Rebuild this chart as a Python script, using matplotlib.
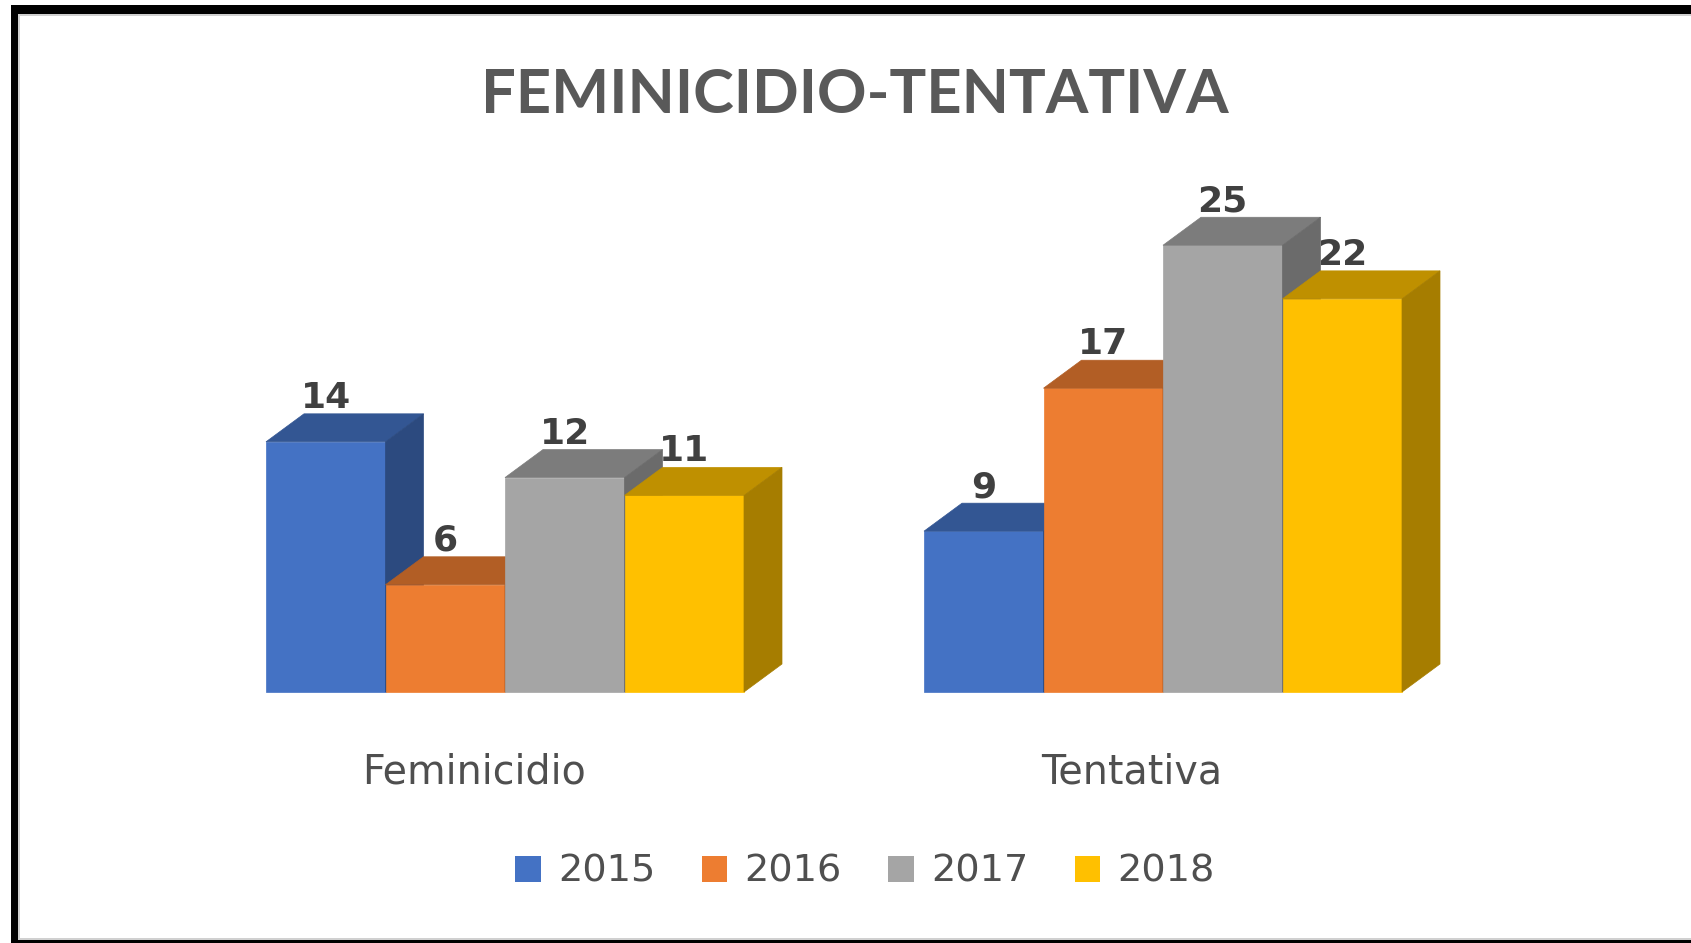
import matplotlib
matplotlib.use("Agg")
import matplotlib.pyplot as plt
from matplotlib.colors import to_rgb
from matplotlib.patches import Polygon, Rectangle, Patch

# datos del grafico
categories = ["Feminicidio", "Tentativa"]
years = ["2015", "2016", "2017", "2018"]
v2015 = [14, 9]
v2016 = [6, 17]
v2017 = [12, 25]
v2018 = [11, 22]
series = [v2015, v2016, v2017, v2018]
colors = ["#4472C4", "#ED7D31", "#A5A5A5", "#FFC000"]

W, H = 1691, 943
PX_X = 658.0   # pixeles por categoria
PX_Y = 17.87   # pixeles por unidad
BASE = 692     # linea base en pixeles desde arriba
CX0 = 505      # centro del primer grupo


def shade(c, f):  # oscurecer color para caras laterales
    return tuple(v * f for v in to_rgb(c))


def fig_rect(x, y, w, h, color):  # rectangulo en pixeles (origen arriba-izquierda)
    fig.add_artist(Rectangle((x / W, 1 - (y + h) / H), w / W, h / H,
                             transform=fig.transFigure, color=color, lw=0))


fig = plt.figure(figsize=(W / 100, H / 100), dpi=100)
fig.patch.set_facecolor("white")
ax = fig.add_axes([0, 0, 1, 1])
ax.set_xlim(-CX0 / PX_X, (W - CX0) / PX_X)
ax.set_ylim(-(H - BASE) / PX_Y, BASE / PX_Y)
ax.axis("off")

bar_w = 119.5 / PX_X
dx = 38 / PX_X   # profundidad 3D
dy = 28 / PX_Y

z = 2
for ci in range(len(categories)):
    for si, (vals, col) in enumerate(zip(series, colors)):
        v = vals[ci]
        x0 = ci - 2 * bar_w + si * bar_w
        ax.bar(x0, v, width=bar_w, align="edge", color=col, ec=col, lw=0.5, zorder=z)
        top = Polygon([(x0, v), (x0 + bar_w, v), (x0 + bar_w + dx, v + dy), (x0 + dx, v + dy)],
                      closed=True, fc=shade(col, 0.75), ec=shade(col, 0.75), lw=0.5, zorder=z)
        side = Polygon([(x0 + bar_w, 0), (x0 + bar_w + dx, dy), (x0 + bar_w + dx, v + dy), (x0 + bar_w, v)],
                       closed=True, fc=shade(col, 0.65), ec=shade(col, 0.65), lw=0.5, zorder=z)
        ax.add_patch(top)
        ax.add_patch(side)
        ax.text(x0 + bar_w / 2, v + dy + 6 / PX_Y, str(v), ha="center", va="baseline",
                fontsize=26, fontweight="bold", color="#404040", zorder=50)
    ax.text(ci - 0.047, -91 / PX_Y, categories[ci], ha="center", va="baseline",
            fontsize=28.5, color="#4f4f4f", zorder=50)

fig.text(855 / W, 1 - 113 / H, "FEMINICIDIO-TENTATIVA", ha="center", va="baseline",
         fontsize=44.2, fontweight="bold", family=["Lato", "DejaVu Sans"], color="#595959")

handles = [Patch(facecolor=c, edgecolor="none") for c in colors]
fig.legend(handles, years, loc="center", bbox_to_anchor=(865 / W, 1 - 872 / H), ncol=4,
           frameon=False, fontsize=27.5, handlelength=0.667, handleheight=0.667,
           handletextpad=0.45, columnspacing=1.22, labelcolor="#4f4f4f")

# marco
fig_rect(11, 5, W - 11, 9, "black")
fig_rect(18, 14, W - 18, 2, "#D0D0D0")
fig_rect(11, 5, 7, H - 5, "black")
fig_rect(18, 14, 2, H - 14, "#D0D0D0")
fig_rect(18, 938, W - 18, 2, "#D0D0D0")
fig_rect(18, 940, W - 18, 3, "black")

fig.savefig("out.png", dpi=100)
